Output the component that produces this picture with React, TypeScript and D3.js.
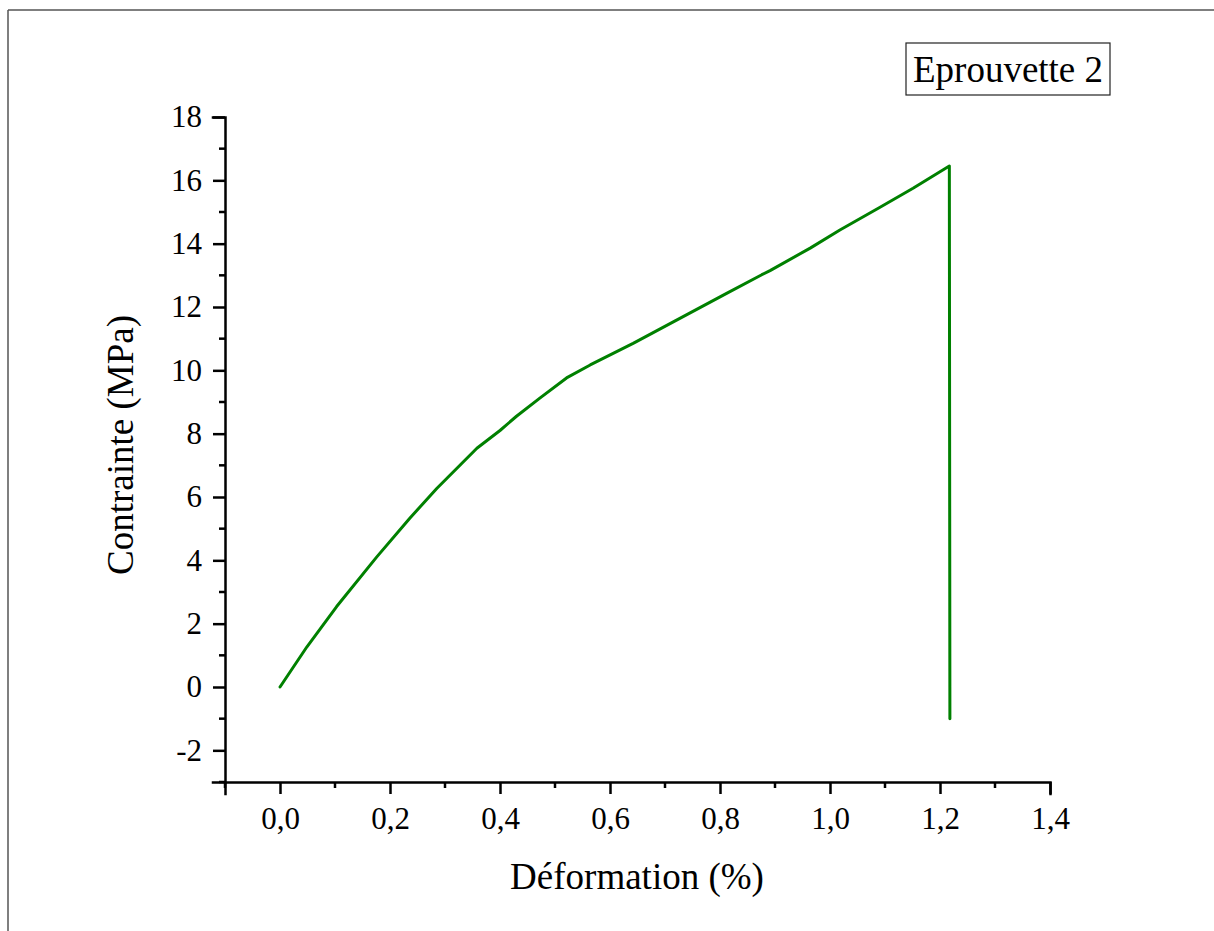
import React, { useEffect, useRef } from "react";
import * as d3 from "d3";

const strainValues = [0, 0.049, 0.103, 0.176, 0.236, 0.285, 0.358, 0.4, 0.43, 0.473, 0.521, 0.564, 0.642, 0.727, 0.812, 0.876, 0.891, 0.964, 1.018, 1.091, 1.151, 1.217, 1.218];
const stressValues = [0, 1.27, 2.54, 4.11, 5.33, 6.27, 7.54, 8.1, 8.55, 9.13, 9.76, 10.17, 10.85, 11.64, 12.43, 13.02, 13.15, 13.86, 14.43, 15.15, 15.75, 16.45, -1.0];
const xTicks = [0, 0.2, 0.4, 0.6, 0.8, 1.0, 1.2, 1.4];
const xMinorTicks = [-0.1, 0.1, 0.3, 0.5, 0.7, 0.9, 1.1, 1.3];
const yTicks = [-2, 0, 2, 4, 6, 8, 10, 12, 14, 16, 18];
const yMinorTicks = [-3, -1, 1, 3, 5, 7, 9, 11, 13, 15, 17];
const legendLabel = "Eprouvette 2";
const xTitle = "Déformation (%)";
const yTitle = "Contrainte (MPa)";

const W = 1214;
const H = 931;
const FONT = "'Liberation Serif', 'Times New Roman', serif";

export default function App() {
  const ref = useRef<SVGSVGElement>(null);

  useEffect(() => {
    const svg = d3.select(ref.current);
    svg.selectAll("*").remove();

    const x = d3.scaleLinear().domain([-0.1, 1.4]).range([225, 1050]);
    const y = d3.scaleLinear().domain([-3, 18]).range([782, 117]);

    // frame
    svg.append("line").attr("x1", 8).attr("x2", W).attr("y1", 10).attr("y2", 10)
      .attr("stroke", "#555").attr("stroke-width", 1.5);
    svg.append("line").attr("x1", 8).attr("x2", 8).attr("y1", 10).attr("y2", H)
      .attr("stroke", "#555").attr("stroke-width", 1.5);

    const fmt = (d: number) => d3.format(".1f")(d).replace(".", ",");

    // x axis
    const gx = svg.append("g").attr("transform", `translate(0,${y(-3)})`);
    gx.call(
      d3.axisBottom(x).tickValues(xTicks).tickSize(12).tickPadding(13).tickFormat((d) => fmt(d as number)) as any
    );
    gx.select(".domain").attr("stroke-width", 2.5);
    gx.selectAll(".tick line").attr("stroke-width", 2.5);
    gx.selectAll(".tick text").attr("font-family", FONT).attr("font-size", 31).attr("fill", "#000");
    gx.selectAll(".minor").data(xMinorTicks).enter().append("line")
      .attr("x1", (d) => x(d)).attr("x2", (d) => x(d)).attr("y1", 0).attr("y2", 6)
      .attr("stroke", "#000").attr("stroke-width", 2.5);

    // y axis
    const gy = svg.append("g").attr("transform", `translate(${x(-0.1)},0)`);
    gy.call(
      d3.axisLeft(y).tickValues(yTicks).tickSize(12).tickPadding(11).tickFormat((d) => String(d)) as any
    );
    gy.select(".domain").attr("stroke-width", 2.5);
    gy.selectAll(".tick line").attr("stroke-width", 2.5);
    gy.selectAll(".tick text").attr("font-family", FONT).attr("font-size", 31).attr("fill", "#000");
    gy.selectAll(".minor").data(yMinorTicks).enter().append("line")
      .attr("y1", (d) => y(d)).attr("y2", (d) => y(d)).attr("x1", 0).attr("x2", -6)
      .attr("stroke", "#000").attr("stroke-width", 2.5);
    svg.selectAll(".domain").attr("stroke-linecap", "square");

    // data line
    const pts = strainValues.map((v, i) => [v, stressValues[i]] as [number, number]);
    const line = d3.line<[number, number]>().x((d) => x(d[0])).y((d) => y(d[1]));
    svg.append("path").attr("d", line(pts) as string).attr("fill", "none")
      .attr("stroke", "#008000").attr("stroke-width", 3).attr("stroke-linejoin", "round").attr("stroke-linecap", "round");

    // titles
    svg.append("text").attr("x", 637).attr("y", 889).attr("text-anchor", "middle")
      .attr("font-family", FONT).attr("font-size", 37).attr("fill", "#000").text(xTitle);
    svg.append("text").attr("transform", `translate(133,445) rotate(-90)`).attr("text-anchor", "middle")
      .attr("font-family", FONT).attr("font-size", 37).attr("fill", "#000").text(yTitle);

    // legend
    svg.append("rect").attr("x", 906).attr("y", 43).attr("width", 204).attr("height", 52)
      .attr("fill", "#fff").attr("stroke", "#222").attr("stroke-width", 1.2);
    svg.append("text").attr("x", 1008).attr("y", 82).attr("text-anchor", "middle")
      .attr("font-family", FONT).attr("font-size", 37).attr("fill", "#000").text(legendLabel);
  }, []);

  return (
    <svg
      ref={ref}
      width={W}
      height={H}
      style={{ position: "absolute", left: 0, top: 0, background: "#fff" }}
    />
  );
}
